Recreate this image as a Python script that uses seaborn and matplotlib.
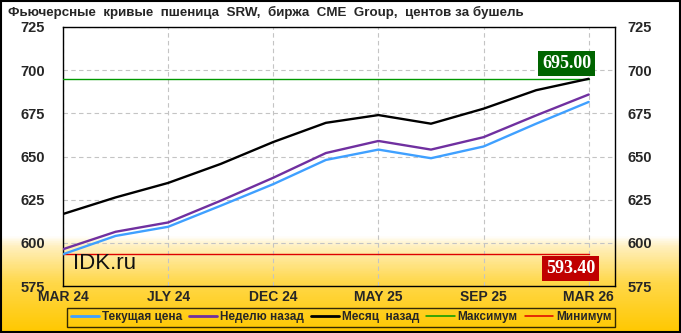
import numpy as np
import pandas as pd
import matplotlib
matplotlib.use("Agg")
import matplotlib.pyplot as plt
import seaborn as sns
from matplotlib.colors import LinearSegmentedColormap

contracts = ["MAR 24", "MAY 24", "JLY 24", "SEP 24", "DEC 24", "MAR 25",
             "MAY 25", "JLY 25", "SEP 25", "DEC 25", "MAR 26"]
current = [593.4, 604.0, 609.3, 621.5, 634.0, 648.0, 654.0, 649.0, 655.8, 669.0, 681.6]
week_ago = [596.3, 606.4, 611.8, 624.4, 637.7, 652.0, 659.0, 654.0, 661.2, 673.8, 685.9]
month_ago = [616.7, 626.3, 634.7, 645.7, 658.4, 669.5, 674.0, 669.0, 677.7, 688.4, 695.0]
max_value = 695.00
min_value = 593.40
series_names = ["Текущая цена", "Неделю назад", "Месяц  назад", "Максимум", "Минимум"]
tick_labels = ["MAR 24", "JLY 24", "DEC 24", "MAY 25", "SEP 25", "MAR 26"]
title = "Фьючерсные  кривые  пшеница  SRW,  биржа  CME  Group,  центов за бушель"

sns.set_theme(style="white")
plt.rcParams['font.family'] = ['Liberation Sans', 'DejaVu Sans']

W, H = 681, 333
fig = plt.figure(figsize=(W / 100, H / 100), dpi=100)

# background gradient
bg = fig.add_axes([0, 0, 1, 1], zorder=-10)
bg.set_axis_off()
cmap = LinearSegmentedColormap.from_list(
    "bg", [(0.0, "#FFC800"), (0.15, "#FFD84A"), (0.26, "#FFF0C0"), (0.29, "#FFFFFF"), (1.0, "#FFFFFF")])
grad = np.linspace(0, 1, 400).reshape(-1, 1)
bg.imshow(grad, aspect="auto", cmap=cmap, origin="lower", extent=[0, 1, 0, 1])
bg.set_xlim(0, 1)
bg.set_ylim(0, 1)
bg.add_patch(plt.Rectangle((0.0015, 0.003), 0.997, 0.994, fill=False, edgecolor="black", lw=1.5,
                           transform=bg.transAxes))

ax = fig.add_axes([63 / W, 1 - 286 / H, (615 - 63) / W, (286 - 27) / H])
ax.patch.set_alpha(0)

x = np.arange(len(contracts))
df = pd.DataFrame({
    "x": np.tile(x, 3),
    "value": current + week_ago + month_ago,
    "series": [series_names[0]] * len(x) + [series_names[1]] * len(x) + [series_names[2]] * len(x),
})
palette = {series_names[0]: "#3FA0FF", series_names[1]: "#7030A0", series_names[2]: "#000000"}
sns.lineplot(data=df, x="x", y="value", hue="series", palette=palette, ax=ax,
             linewidth=1.7, legend=False, zorder=4)

ax.plot([x[0], x[-1]], [max_value, max_value], color="#009900", lw=1.0, zorder=3)
ax.plot([x[0], x[-1]], [min_value, min_value], color="#DD0000", lw=1.0, zorder=3)

ax.set_xlim(0, 10.5)
ax.set_ylim(575, 725)
ax.set_xlabel("")
ax.set_ylabel("")
ax.set_yticks(np.arange(575, 726, 25))
ax.set_xticks(x[::2])
ax.set_xticklabels(tick_labels)
ax.grid(True, color="#C4C4C4", linestyle=(0, (4, 3)), lw=0.8)
for s in ax.spines.values():
    s.set_color("black")
    s.set_linewidth(1.0)
ax.tick_params(axis="both", length=0, labelsize=10.5)
ax.tick_params(axis="x", pad=3, labelsize=10)
ax.tick_params(axis="y", pad=13)
for lab in ax.get_xticklabels() + ax.get_yticklabels():
    lab.set_fontweight("bold")

ax2 = ax.twinx()
ax2.set_ylim(575, 725)
ax2.set_yticks(np.arange(575, 726, 25))
ax2.tick_params(axis="y", length=0, labelsize=10.5, pad=9)
for lab in ax2.get_yticklabels():
    lab.set_fontweight("bold")
ax2.grid(False)
for s in ax2.spines.values():
    s.set_visible(False)

ax.text(10.05, max_value + 4.0, f"{max_value:.2f}", ha="right", va="bottom", color="white",
        fontsize=13, fontweight="bold", family=["Liberation Serif"], zorder=6,
        bbox=dict(boxstyle="square,pad=0.22", facecolor="#006400", edgecolor="none"))
ax.text(10.12, min_value - 3.6, f"{min_value:.2f}", ha="right", va="top", color="white",
        fontsize=13, fontweight="bold", family=["Liberation Serif"], zorder=6,
        bbox=dict(boxstyle="square,pad=0.22", facecolor="#C00000", edgecolor="none"))

ax.text(0.018, 0.128, "IDK.ru", transform=ax.transAxes, fontsize=16,
        color="#111111", va="top", ha="left")

fig.text(8 / W, 1 - 12 / H, title, fontsize=9.6, fontweight="bold", ha="left", va="center")

handles = [plt.Line2D([], [], color=c, lw=w) for c, w in
           [("#3FA0FF", 2), ("#7030A0", 2), ("#000000", 2), ("#009900", 1.1), ("#DD0000", 1.1)]]
leg = fig.legend(handles, series_names, loc="lower left", ncol=5, mode="expand",
                 bbox_to_anchor=(67 / W, 1 - 327 / H, (615 - 67) / W, 21 / H),
                 frameon=True, fancybox=False, handlelength=2.4, handletextpad=0.25,
                 borderaxespad=0, borderpad=0.3, columnspacing=0.5,
                 prop={"weight": "bold", "size": 8.5})
leg.get_frame().set_edgecolor("black")
leg.get_frame().set_facecolor("none")
leg.get_frame().set_linewidth(1.0)

fig.savefig("out.png", dpi=100)
